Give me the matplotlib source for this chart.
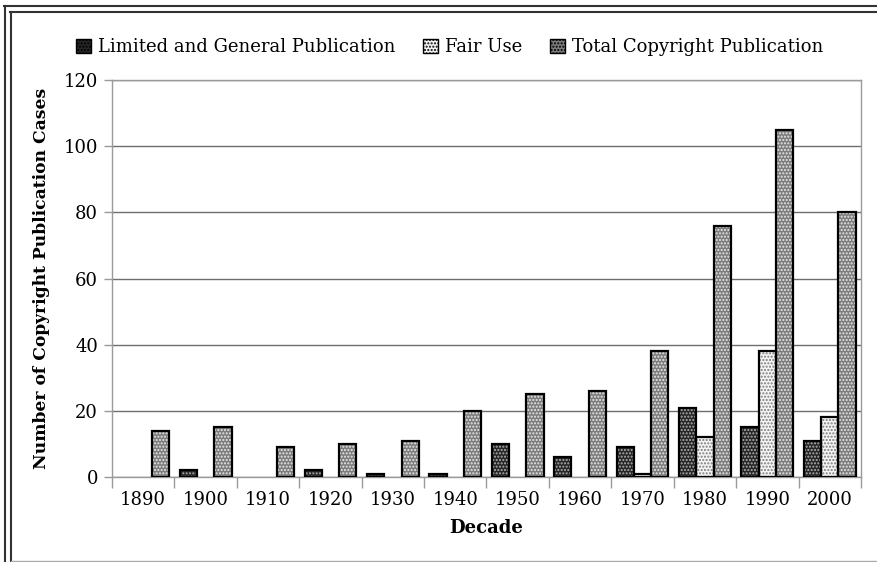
import numpy as np
import matplotlib
matplotlib.use("Agg")
import matplotlib.pyplot as plt
from matplotlib.patches import Patch
from matplotlib.lines import Line2D

# ---------------------------------------------------------------------------
# Data
# ---------------------------------------------------------------------------
decades = ["1890", "1900", "1910", "1920", "1930", "1940", "1950",
           "1960", "1970", "1980", "1990", "2000"]
limited = [0, 2, 0, 2, 1, 1, 10, 6, 9, 21, 15, 11]
fair_use = [0, 0, 0, 0, 0, 0, 0, 0, 1, 12, 38, 18]
total = [14, 15, 9, 10, 11, 20, 25, 26, 38, 76, 105, 80]

series_names = ["Limited and General Publication", "Fair Use",
                "Total Copyright Publication"]

# face colour, hatch colour, hatch pattern for each series
STYLES = [
    ("#262626", "#b0b0b0", "....."),
    ("#f4f4f4", "#7a7a7a", "....."),
    ("#7c7c7c", "#e8e8e8", "....."),
]

GRID = "#6e6e6e"
SPINE = "#9a9a9a"
FS = 13

plt.rcParams["font.family"] = ["DejaVu Serif"]
plt.rcParams["hatch.linewidth"] = 1.0

fig = plt.figure(figsize=(8.78, 5.62), dpi=100)
ax = fig.add_axes([112 / 878, 1 - 477 / 562, (861 - 112) / 878, (477 - 80) / 562])

x = np.arange(len(decades))
w = 0.277

for i, (vals, (face, hcol, hatch)) in enumerate(zip([limited, fair_use, total], STYLES)):
    vals = np.asarray(vals, dtype=float)
    keep = vals > 0           # empty bars leave no mark in the reference
    pos = (x + (i - 1) * w)[keep]
    # textured fill
    ax.bar(pos, vals[keep], width=w, color=face, edgecolor=hcol, hatch=hatch,
           linewidth=0, zorder=3)
    # black outline
    ax.bar(pos, vals[keep], width=w, fill=False, edgecolor="black",
           linewidth=1.6, zorder=4)

ax.set_xlim(-0.5, len(decades) - 0.5)
ax.set_ylim(0, 120)
ax.set_yticks(np.arange(0, 121, 20))
ax.yaxis.grid(True, color=GRID, linewidth=1.0, zorder=0)
ax.set_axisbelow(True)

ax.set_xticks(x)
ax.set_xticklabels(decades)
ax.set_xticks(np.arange(-0.5, len(decades), 1), minor=True)
ax.tick_params(axis="x", which="major", length=0, pad=10, labelsize=FS)
ax.tick_params(axis="x", which="minor", length=8, width=1, color=SPINE)
ax.tick_params(axis="y", length=6, width=1, color=SPINE, pad=4, labelsize=FS)

for s in ax.spines.values():
    s.set_color(SPINE)
    s.set_linewidth(1.0)

ax.set_xlabel("Decade", fontsize=FS, fontweight="bold", labelpad=7)
ax.set_ylabel("Number of Copyright Publication Cases", fontsize=12.3,
              fontweight="bold", labelpad=10)

# legend across the top
handles = [Patch(facecolor=f, edgecolor="black", hatch=h, linewidth=1.0)
           for f, _, h in STYLES]
leg = fig.legend(handles, series_names, loc="center", ncol=3,
                 bbox_to_anchor=(0.512, 1 - 47 / 562), frameon=False,
                 fontsize=FS, handlelength=0.85, handleheight=0.85,
                 handletextpad=0.4, columnspacing=1.5)

# page frame: double line on top and left, light line at the bottom
frame = [
    ((4 / 878, 1.0), (1 - 6 / 562, 1 - 6 / 562), "#333333", 1.5),
    ((10 / 878, 1.0), (1 - 12 / 562, 1 - 12 / 562), "#333333", 1.5),
    ((5 / 878, 5 / 878), (0.0, 1 - 6 / 562), "#333333", 1.5),
    ((11 / 878, 11 / 878), (1 / 562, 1 - 12 / 562), "#333333", 1.5),
    ((11 / 878, 1.0), (1 / 562, 1 / 562), "#aaaaaa", 1.0),
]
for xs, ys, c, lw in frame:
    fig.add_artist(Line2D(xs, ys, color=c, linewidth=lw, transform=fig.transFigure))

fig.savefig("out.png", dpi=100)
